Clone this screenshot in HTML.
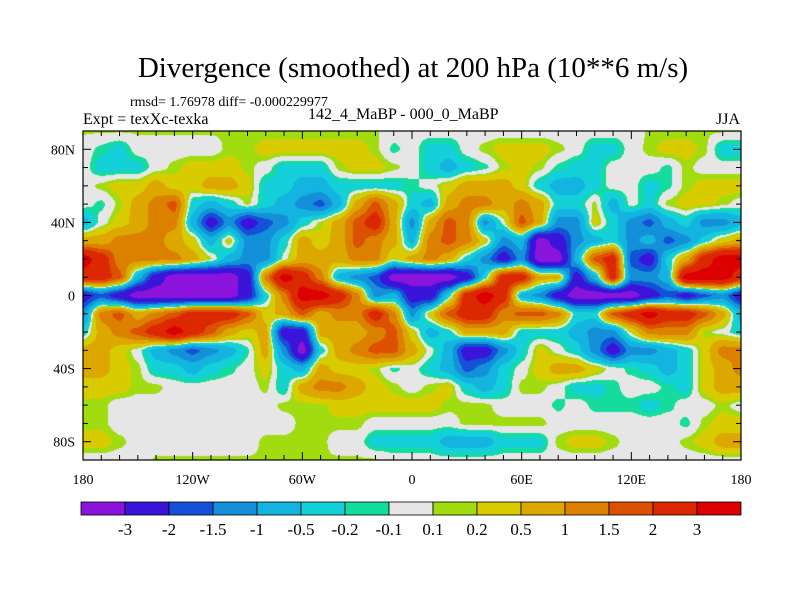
<!DOCTYPE html>
<html><head><meta charset="utf-8"><style>
body{margin:0;background:#fff;width:800px;height:600px;overflow:hidden;position:relative;font-family:"Liberation Serif",serif;}
.t{position:absolute;white-space:nowrap;color:#000;}
</style></head><body>
<div class="t" style="left:0;width:826px;text-align:center;top:52px;font-size:29px;">Divergence (smoothed) at 200 hPa (10**6 m/s)</div>
<div class="t" style="left:130px;top:95px;font-size:14px;">rmsd= 1.76978 diff= -0.000229977</div>
<div class="t" style="left:83px;top:111px;font-size:16px;">Expt = texXc-texka</div>
<div class="t" style="left:308px;top:106px;font-size:16px;">142_4_MaBP - 000_0_MaBP</div>
<div class="t" style="left:716px;top:111px;font-size:16px;">JJA</div>
<canvas id="map" width="658" height="329" style="position:absolute;left:83px;top:131px;"></canvas>
<svg id="ov" width="800" height="600" style="position:absolute;left:0;top:0;"></svg>
<script>
const lonStart=-180, lonStep=10;
const latStart=90, latStep=10;
const lat90=[0.12,0.12,0.12,0.12,0.12,0.12,0.12,0.12,0.12,0.12,0.12,0.12,0.12,0.12,0.12,0.12,0.12,0,0,0,0,0,0,0,0,0,0,0,0,0,0,0.12,0.12,0.12,0.12,0.12,0.12];
const lat80=[0,-0.15,-0.3,0,0,0,0,0,0.15,0.15,0.3,0.3,0.3,0.3,0.3,0.3,0.15,-0.15,0,-0.3,-0.3,0,0.15,0.3,0.3,0.3,0.15,0,-0.3,-0.3,0,0.15,0.3,0.3,0.15,-0.3,-0.3];
const lat70=[0,-0.3,-0.3,-0.3,0,0.15,0.3,0.3,0.3,0.15,0,-0.3,-0.3,-0.3,0.15,0.3,0.3,0.15,0,-0.3,-0.7,-0.3,-0.15,0.15,0.3,0.15,-0.15,-0.3,-0.3,0,0,0,-0.15,0.15,0,0,0];
const lat60=[0,0.15,0.3,0.3,0.7,0.3,0.3,0.7,0.7,0.3,-0.3,-0.3,-0.7,-0.7,-0.3,-0.3,-0.3,-0.3,-0.15,0,0.3,0.7,0.7,0.7,0.3,-0.3,-0.7,-0.7,-0.3,0,0,-0.3,-0.15,0.15,0.3,0.3,0.3];
const lat50=[0,-0.15,0.15,0.7,1.2,1.7,-0.3,-0.7,-0.3,0.15,-0.3,-0.7,-1.2,-1.7,-0.7,0.7,1.7,0.7,-0.3,-0.7,0.7,1.2,1.2,0.7,1.2,0.7,-0.3,-0.3,0.15,-0.7,0,-0.3,0.15,0.3,0.3,0.15,0];
const lat40=[-0.7,0,0.3,0.7,1.2,1.2,-0.7,-2.5,-1.2,-2.5,-1.7,-1.2,-0.3,0.15,0.7,1.7,2.5,0.7,-1.2,0.7,1.7,1.2,-1.2,0,1.7,0.7,-1.2,-1.2,0.3,-0.3,-1.2,-1.7,-0.7,-0.3,-1.2,-1.2,-0.7];
const lat30=[0.7,0.7,1.2,1.2,1.2,0.7,0.3,-0.7,0.3,-1.2,-1.2,-0.3,0.7,0.3,0.7,1.7,1.2,0.7,-0.7,1.2,1.7,1.2,0.3,-1.2,-0.7,-3.5,-2.5,-1.2,-0.7,-0.3,-1.2,-0.7,-1.7,-1.2,-0.3,0.3,0.7];
const lat20=[3.5,2.5,1.2,1.2,1.2,1.2,0.7,0.15,-0.7,-1.2,-1.2,0,0.7,0.7,0.7,1.2,1.2,0.15,0.7,1.2,0.7,-0.3,-1.2,-2.5,-1.2,-3.5,-3.5,-0.7,1.7,2.5,-1.7,-2.5,-0.3,0.7,2.5,3.5,3.5];
const lat10=[2.5,2.5,1.7,-0.7,-2.5,-3.5,-3.5,-3.5,-3.5,-2.5,1.2,3.5,2.5,1.2,-0.7,-1.2,-1.7,-3.5,-3.5,-3.5,-3.5,-2.5,-0.3,2.5,2.5,0.7,0.7,-2.5,-0.7,2.5,-1.2,-1.2,-0.7,3.5,3.5,3.5,2.5];
const lat0=[-2.5,-1.7,-2.5,-3.5,-3.5,-3.5,-3.5,-3.5,-3.5,-2.5,-0.3,1.2,3.5,3.5,2.5,1.2,-1.2,-0.7,-2.5,-2.5,-0.3,2.5,3.5,2.5,-0.7,-1.2,-2.5,-3.5,-3.5,-3.5,-3.5,-2.5,-1.7,-2.5,-1.7,-1.2,-2.5];
const latS10=[-1.2,1.2,1.7,0.7,1.2,1.7,2.5,2.5,2.5,1.7,0.3,0.7,1.7,0.7,1.2,1.2,2.5,1.2,-1.2,0.3,1.7,2.5,2.5,1.2,1.7,1.7,1.2,-0.3,-0.3,1.7,2.5,3.5,2.5,2.5,1.7,0.7,-0.7];
const latS20=[-0.3,0.7,1.2,1.7,2.5,3.5,2.5,1.7,0.7,0.3,0.7,-2.5,-2.5,0.7,0.7,0.7,1.2,1.7,0.3,-0.7,-0.3,0.7,0.7,0.7,-0.3,-0.3,-0.3,-0.7,-1.2,-1.2,0.15,1.2,1.2,1.2,0.15,0,-0.3];
const latS30=[0.7,0.7,0.3,0,-0.7,-1.2,-1.7,-1.2,-0.7,-0.15,0.7,-1.2,-3.5,-0.3,0.7,1.2,1.7,1.7,0.7,0,-0.7,-2.5,-2.5,-1.2,-0.3,0.3,0,-0.3,-1.2,-2.5,-1.2,-1.2,-0.7,-0.3,0.3,1.2,1.2];
const latS40=[0.7,0.7,0.3,0.15,-0.3,-0.3,-0.7,-0.3,-0.15,0,0.3,-0.3,-0.7,0.7,0.3,0.3,0.15,-0.15,0,-0.3,-0.7,-1.7,-1.2,-0.3,0,0.3,0.7,0.7,0.3,0,-0.15,-0.3,-0.7,-0.3,0.3,0.7,1.2];
const latS50=[0.3,0.3,0.3,0.15,0.15,0,0,0,0,0,0.15,-0.3,0.7,1.2,1.2,0.7,0.3,0.15,0,0.15,0.3,-0.3,-0.7,-0.3,0.15,0.15,0,-0.3,-0.3,-0.15,0,0,-0.15,-0.3,0.3,0.7,0.7];
const latS60=[0.15,0.15,0,0,0,0,0,0,0,0,0,0.15,0.15,0.15,0.3,0.3,0.3,0.3,0.3,0.3,0.15,0.15,0.15,0,0,0,-0.15,0,-0.15,-0.15,-0.15,-0.3,-0.15,0,0,0.15,0];
const latS70=[0.15,0.15,0,0,0,0,0,0,0,0,0,0,0.15,0.15,0.15,0.15,0,0,0,0,0,0.15,0.15,0.15,0.15,0.15,0,0,0,0,0,0,0,-0.15,0.15,0.3,0.3];
const latS80=[0.3,0.3,0.15,0,0,0,0,0,0,0,0.15,0.15,0.15,0.15,0,0,-0.3,-0.3,-0.3,-0.3,-0.7,-0.7,-0.7,-0.3,-0.3,-0.3,0.15,0.3,0.3,0.15,0,0,0,0.15,0.3,0.7,0.7];
const latS90=[0,0,0,0,0.12,0.12,0.12,0.12,0.12,0.12,0.12,0.12,0.12,0.12,0.12,0.12,0.12,0,0,0,0,0,0,0,0,0,0,0,0,0,0,0,0,0,0,0,0];
const grid=[lat90,lat80,lat70,lat60,lat50,lat40,lat30,lat20,lat10,lat0,latS10,latS20,latS30,latS40,latS50,latS60,latS70,latS80,latS90];
const levels=[-3,-2,-1.5,-1,-0.5,-0.2,-0.1,0.1,0.2,0.5,1,1.5,2,3];
const levelLabels=["-3","-2","-1.5","-1","-0.5","-0.2","-0.1","0.1","0.2","0.5","1","1.5","2","3"];
const colors=["#8a14dc","#3a14d8","#1450d8","#1490d8","#14b4e0","#14d0d8","#14dc9c","#e6e6e6","#a0dc10","#d8cc00","#dca800","#dc8000","#dc5000","#dc2800","#dc0000"];
const xTicks=[-180,-120,-60,0,60,120,180];
const xTickLabels=["180","120W","60W","0","60E","120E","180"];
const yTicks=[80,40,0,-40,-80];
const yTickLabels=["80N","40N","0","40S","80S"];

const PX=83,PY=131,PW=658,PH=329;
function xs(lon){return PX+(lon+180)/360*PW;}
function ys(lat){return PY+(90-lat)/180*PH;}
function colorIdx(v){let i=0;while(i<levels.length&&v>=levels[i])i++;return i;}
function hex(c){return [parseInt(c.slice(1,3),16),parseInt(c.slice(3,5),16),parseInt(c.slice(5,7),16)];}
const rgb=colors.map(hex);
const nx=grid[0].length, ny=grid.length;
function sample(lon,lat){
  const fx=(lon-lonStart)/lonStep, fy=(latStart-lat)/latStep;
  let i=Math.max(0,Math.min(Math.floor(fx),nx-2)), j=Math.max(0,Math.min(Math.floor(fy),ny-2));
  let tx=fx-i, ty=fy-j;
  tx=tx*tx*(3-2*tx)*0.5+tx*0.5; ty=ty*ty*(3-2*ty)*0.5+ty*0.5;
  const a=grid[j][i],b=grid[j][i+1],c=grid[j+1][i],d=grid[j+1][i+1];
  return (a*(1-tx)+b*tx)*(1-ty)+(c*(1-tx)+d*tx)*ty;
}
const cv=document.getElementById('map'),ctx=cv.getContext('2d');
const img=ctx.createImageData(PW,PH);
for(let y=0;y<PH;y++){for(let x=0;x<PW;x++){
  const lon=-180+(x+0.5)/PW*360, lat=90-(y+0.5)/PH*180;
  const c=rgb[colorIdx(sample(lon,lat))];const k=(y*PW+x)*4;
  img.data[k]=c[0];img.data[k+1]=c[1];img.data[k+2]=c[2];img.data[k+3]=255;}}
ctx.putImageData(img,0,0);

const NS='http://www.w3.org/2000/svg',svg=document.getElementById('ov');
function el(t,a,txt){const e=document.createElementNS(NS,t);for(const k in a)e.setAttribute(k,a[k]);if(txt!==undefined)e.textContent=txt;svg.appendChild(e);return e;}
const fr=el('rect',{x:PX,y:PY,width:PW,height:PH,fill:'none',stroke:'#000','stroke-width':1.2});


for(let lon=-180;lon<=180;lon+=10){const maj=xTicks.includes(lon);const L=maj?8:5;
  const t1=el('line',{x1:xs(lon),x2:xs(lon),y1:PY,y2:PY+L,stroke:'#000'});
  
  
  const t2=el('line',{x1:xs(lon),x2:xs(lon),y1:PY+PH,y2:PY+PH-L,stroke:'#000'});
  
  }
for(let lat=-90;lat<=90;lat+=10){const maj=yTicks.includes(lat);const L=maj?8:5;
  const t1=el('line',{x1:PX,x2:PX+L,y1:ys(lat),y2:ys(lat),stroke:'#000'});
  
  
  const t2=el('line',{x1:PX+PW,x2:PX+PW-L,y1:ys(lat),y2:ys(lat),stroke:'#000'});
  
  }
xTicks.forEach((v,i)=>{const t=el('text',{x:xs(v),y:484,'text-anchor':'middle','font-size':14,'font-family':'Liberation Serif, serif'},xTickLabels[i]);
  
  });
yTicks.forEach((v,i)=>{const t=el('text',{x:75,y:ys(v)+5,'text-anchor':'end','font-size':14,'font-family':'Liberation Serif, serif'},yTickLabels[i]);
  
  });
const CX=81,CW=660,CY=502,CH=13,bw=CW/colors.length;
colors.forEach((c,i)=>{const r=el('rect',{x:CX+i*bw,y:CY,width:bw,height:CH,fill:c,stroke:'#000','stroke-width':0.8});
  
  });
levelLabels.forEach((s,i)=>{const t=el('text',{x:CX+(i+1)*bw,y:535,'text-anchor':'middle','font-size':17,'font-family':'Liberation Serif, serif'},s);
  
  });
</script>
</body></html>
